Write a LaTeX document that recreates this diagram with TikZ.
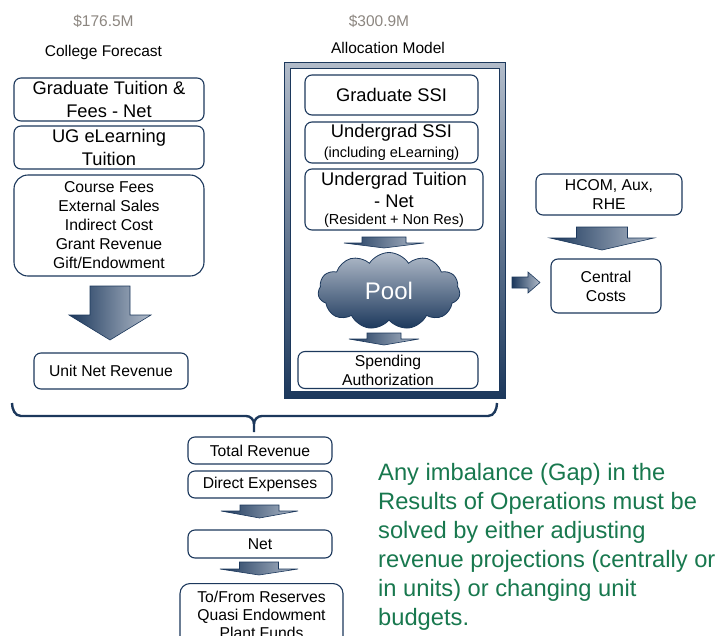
\documentclass[tikz,border=0pt]{standalone}
\usepackage{fontspec}
\setmainfont{Liberation Sans}
\usetikzlibrary{shapes.symbols}

\definecolor{navy}{RGB}{28,56,92}
\definecolor{steel}{RGB}{178,188,202}
\definecolor{figgray}{RGB}{140,134,128}
\definecolor{notegreen}{RGB}{24,120,78}

\newcommand{\downblock}[6]{%
  \shadedraw[blockarrow]
    ({#1-#3},#2) -- ({#1+#3},#2) -- ({#1+#3},#4) -- ({#1+#5},#4)
    -- (#1,#6) -- ({#1-#5},#4) -- ({#1-#3},#4) -- cycle;
}

\begin{document}
\begin{tikzpicture}[
	x = 1pt, y = -1pt,
	box/.style = {
	  draw = navy, line width = 1.1pt, fill = white,
	  rounded corners = 7pt,
	  align = center,
	  inner sep = 0pt,
	},
	bigtxt/.style = {font = \fontsize{18.3}{23}\selectfont},
	midtxt/.style = {font = \fontsize{15.7}{19}\selectfont},
	head/.style = {font = \fontsize{15.5}{18}\selectfont},
	blockarrow/.style = {
	  draw = navy, line width = 0.6pt,
	  left color = navy, right color = steel,
	},
  ]

  \useasboundingbox (0,0) rectangle (718,635);

  % college forecast column
  \node[head, text=figgray] (leftsum) at (103.5,21) {\$176.5M};
  \node[head] (lefttitle) at (103.5,52) {College Forecast};

  \node[box, bigtxt, minimum width=190, minimum height=43] (gradtf) at (109,99.5)
	{Graduate Tuition \&\\Fees - Net};
  \node[box, bigtxt, minimum width=190, minimum height=43] (ugel) at (109,147.5)
	{UG eLearning\\Tuition};
  \node[box, midtxt, rounded corners=14pt, minimum width=190, minimum height=101]
	(otherrev) at (109,225.5)
	{Course Fees\\External Sales\\Indirect Cost\\Grant Revenue\\Gift/Endowment};
  \downblock{110}{286}{20}{315}{41}{340}
  \node[box, midtxt, minimum width=154, minimum height=36] (unitnet) at (111,371)
	{Unit Net Revenue};

  % allocation model frame
  \node[head, text=figgray] (allocsum) at (379,21) {\$300.9M};
  \node[head] (alloctitle) at (388,48) {Allocation Model};

  \shadedraw[draw=navy, line width=0.8pt, top color=steel, bottom color=navy]
	(284,62) rectangle (505,398);
  \filldraw[fill=white, draw=navy, line width=1pt] (290,68) rectangle (499,391);

  \node[box, bigtxt, minimum width=173, minimum height=40] (gradssi) at (391.5,95)
	{Graduate SSI};
  \node[box, font=\fontsize{14.5}{19.5}\selectfont, minimum width=173, minimum height=41]
	(ugssi) at (391.5,142.5)
	{{\fontsize{18.3}{20}\selectfont Undergrad SSI}\\
	 (including eLearning)};
  \node[box, font=\fontsize{14.5}{22}\selectfont, minimum width=178, minimum height=61]
	(ugtuit) at (394,199.5)
	{{\fontsize{18.3}{22}\selectfont Undergrad Tuition}\\
	 {\fontsize{18.3}{22}\selectfont - Net}\\[-5pt]
	 (Resident + Non Res)};
  \downblock{384}{237}{22}{243}{40}{248}
  \node[cloud, cloud puffs=11, cloud puff arc=115, aspect=1.85,
	draw=navy, line width=0.8pt, top color=steel, bottom color=navy,
	minimum width=142, minimum height=77, inner sep=0pt,
	text=white, font=\fontsize{24}{28}\selectfont] (pool) at (389,291) {Pool};
  \downblock{384}{333}{17}{339}{35}{345}
  \node[box, midtxt, minimum width=180, minimum height=37] (spendauth) at (388,370)
	{Spending\\Authorization};

  % central costs
  \node[box, midtxt, minimum width=146, minimum height=41] (hcom) at (609,194.5)
	{HCOM, Aux,\\RHE};
  \downblock{602}{227}{25.5}{238}{52}{250}
  \node[box, midtxt, minimum width=110, minimum height=54] (central) at (606,286)
	{Central\\Costs};
  \shadedraw[blockarrow] (512,277) -- (528,277) -- (528,272) -- (540,282.5)
	-- (528,293) -- (528,288) -- (512,288) -- cycle;

  % brace over both columns
  \draw[navy, line width=2.4pt]
	(12,403) to[out=-90, in=180] (21,416) -- (246,416)
	to[out=0, in=90] (254,424) -- (254,432);
  \draw[navy, line width=2.4pt]
	(254,424) to[out=90, in=180] (262,416) -- (488,416)
	to[out=0, in=-90] (497,403);

  % results
  \node[box, midtxt, minimum width=144, minimum height=27] (totrev) at (260,450.5)
	{Total Revenue};
  \node[box, midtxt, minimum width=144, minimum height=27] (direxp) at (260,484.5)
	{Direct Expenses};
  \downblock{259.5}{505}{19.5}{511}{38.5}{518}
  \node[box, midtxt, minimum width=144, minimum height=28] (net) at (260,544)
	{Net};
  \downblock{259}{562}{19.5}{569}{39}{575}
  \node[box, font=\fontsize{15.7}{18}\selectfont, rounded corners=10pt,
	minimum width=163, minimum height=62, anchor=north] (reserves) at (261.5,583)
	{To/From Reserves\\Quasi Endowment\\Plant Funds};

  \node[anchor=north west, align=left, inner sep=0pt, text=notegreen,
	font=\fontsize{23.7}{29}\selectfont] (gapnote) at (378,463)
	{Any imbalance (Gap) in the\\Results of Operations must be\\
	 solved by either adjusting\\revenue projections (centrally or\\
	 in units) or changing unit\\budgets.};
\end{tikzpicture}
\end{document}
